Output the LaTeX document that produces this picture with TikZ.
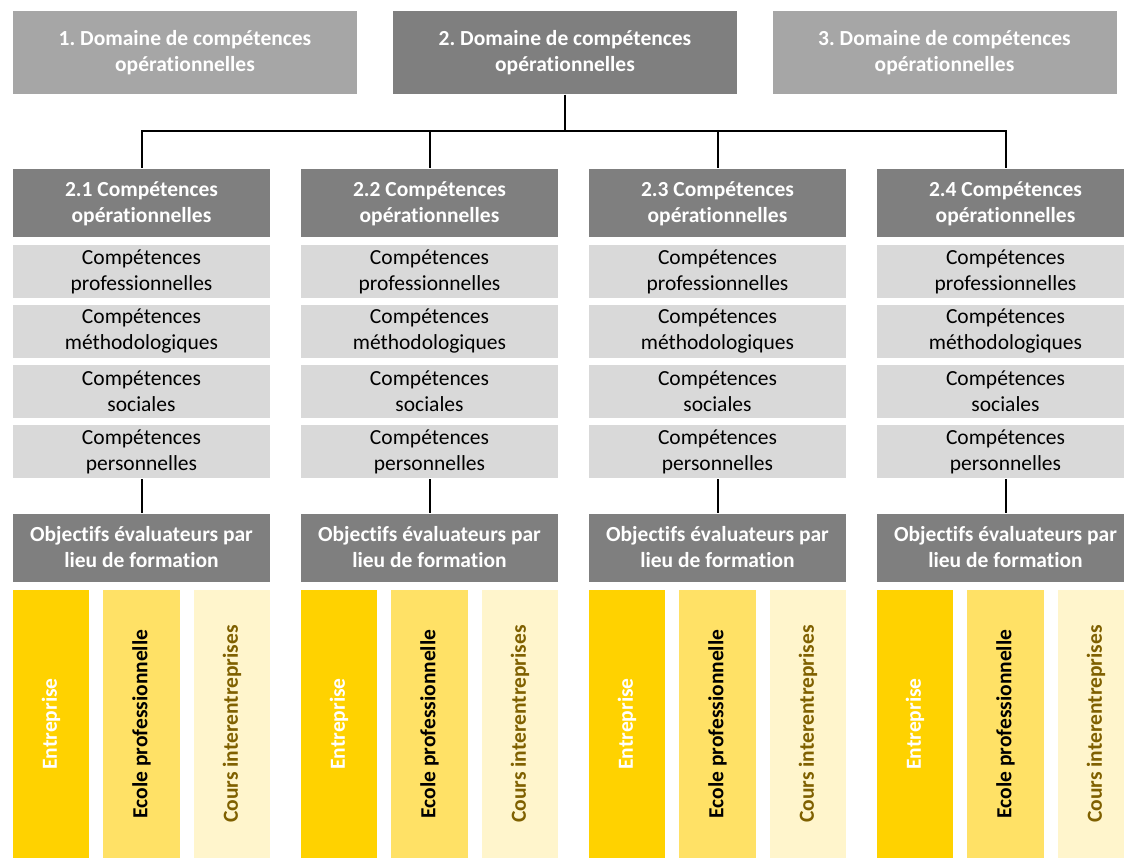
\documentclass[tikz,border=0pt]{standalone}
\usepackage{fontspec}
\setmainfont[Ligatures=CommonOff]{Carlito}
\frenchspacing
\definecolor{lightgrey}{HTML}{A6A6A6}
\definecolor{darkgrey}{HTML}{7F7F7F}
\definecolor{paleGrey}{HTML}{D9D9D9}
\definecolor{gold}{HTML}{FFD200}
\definecolor{midgold}{HTML}{FFE166}
\definecolor{palegold}{HTML}{FFF5CC}
\definecolor{olive}{HTML}{7F6000}
\begin{document}
\begin{tikzpicture}[x=1pt, y=-1pt, line width=2pt,
  box/.style={fill=#1, inner sep=0pt, align=center, font=\fontsize{21.5}{26}\selectfont},
  domain/.style={box=#1, text=white, font=\bfseries\fontsize{21.5}{26}\selectfont, minimum width=344pt, minimum height=83pt},
  head/.style={box=darkgrey, text=white, font=\bfseries\fontsize{21.5}{26}\selectfont, minimum width=257pt, minimum height=68pt},
  comp/.style={box=paleGrey, text=black, minimum width=257pt, minimum height=53pt},
  lieu/.style={box=#1, rotate=90, font=\bfseries\fontsize{21.5}{26}\selectfont, minimum width=268pt, minimum height=76.5pt}]
\def\ydom{52.5};
\def\ysplit{131};
\def\yhead{203.5};
\def\yprof{271.5};
\def\ymeth{331.5};
\def\ysoc{391.5};
\def\ypers{451.5};
\def\yobj{547.5};
\def\ylieu{724};

\useasboundingbox (0,0) rectangle (1124,858);
\clip (0,0) rectangle (1124,858);

\node [domain=lightgrey] (dom1) at (185, \ydom) {1. Domaine de compétences\\opérationnelles};
\node [domain=darkgrey] (dom2) at (565, \ydom) {2. Domaine de compétences\\opérationnelles};
\node [domain=lightgrey] (dom3) at (944.5, \ydom) {3. Domaine de compétences\\opérationnelles};
\coordinate (split) at (565, \ysplit);

\foreach \i/\xl in {1/13, 2/301, 3/589, 4/877} {
  \node [head] (head\i) at (\xl+128.5, \yhead) {2.\i{} Compétences\\opérationnelles};
  \node [comp] (prof\i) at (\xl+128.5, \yprof) {Compétences\\professionnelles};
  \node [comp] (meth\i) at (\xl+128.5, \ymeth) {Compétences\\méthodologiques};
  \node [comp] (soc\i) at (\xl+128.5, \ysoc) {Compétences\\sociales};
  \node [comp] (pers\i) at (\xl+128.5, \ypers) {Compétences\\personnelles};
  \node [head] (obj\i) at (\xl+128.5, \yobj) {Objectifs évaluateurs par\\lieu de formation};
  \node [lieu=gold, text=white] (ent\i) at (\xl+38, \ylieu) {Entreprise};
  \node [lieu=midgold, text=black] (ecole\i) at (\xl+128.5, \ylieu) {Ecole professionnelle};
  \node [lieu=palegold, text=olive] (cours\i) at (\xl+219, \ylieu) {Cours interentreprises};
  \draw (dom2.south) -- (split) -| (head\i.north);
  \draw (pers\i) -- (obj\i);
}

\end{tikzpicture}
\end{document}
